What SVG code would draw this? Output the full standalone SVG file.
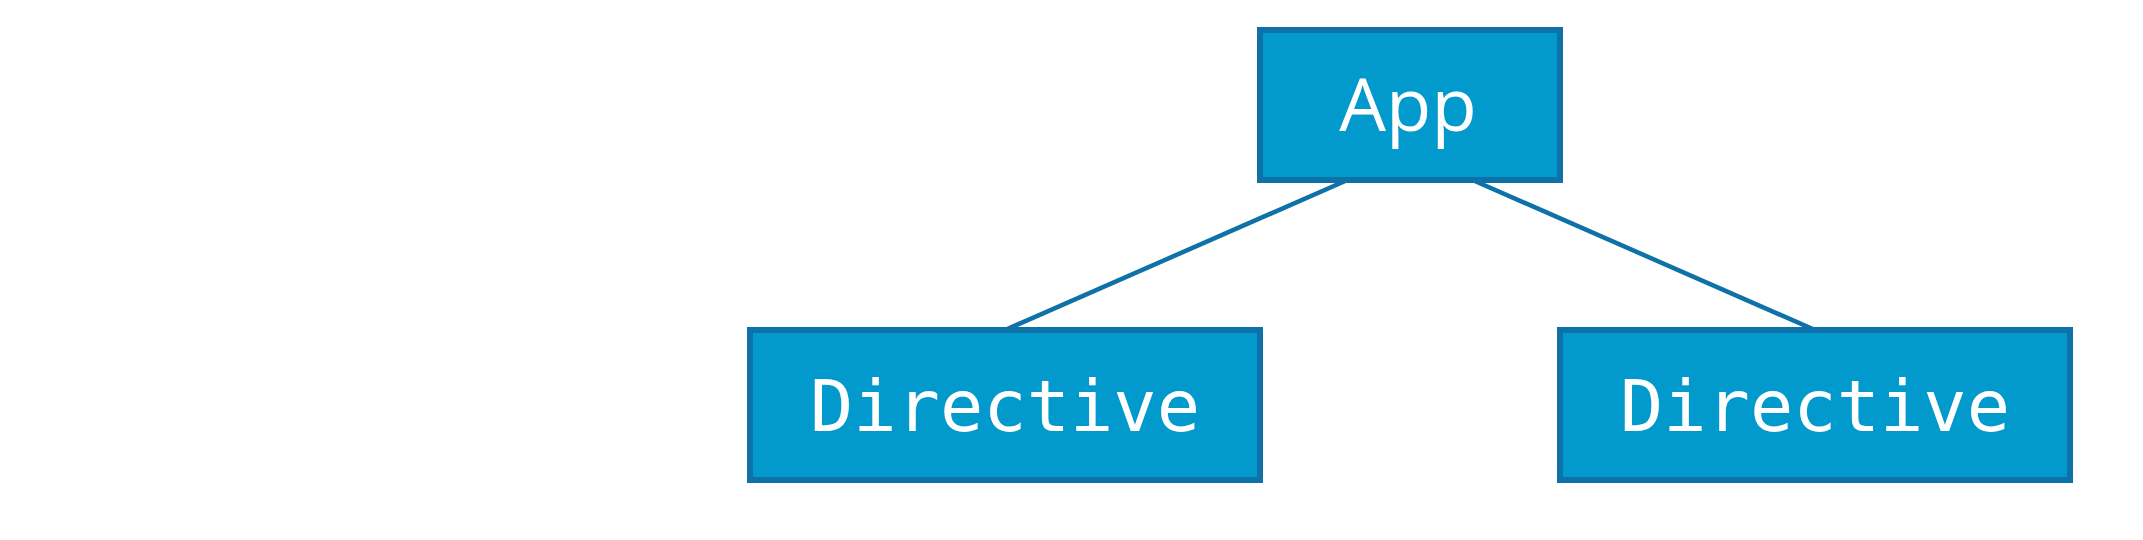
<svg xmlns="http://www.w3.org/2000/svg" width="2143" height="540" viewBox="0 0 2143 540">
<style>
.box{fill:#0299cc;stroke:#0e72a8;stroke-width:6}
.edge{stroke:#0e72a8;stroke-width:4.5;fill:none}
.app{font-family:"Open Sans",sans-serif;font-size:74px;fill:#fff;text-anchor:middle}
.dir{font-family:"DejaVu Sans Mono",monospace;font-size:72px;fill:#fff;text-anchor:middle}
</style>
<rect width="2143" height="540" fill="#fff"/>
<g id="connectors">
<line class="edge" x1="1347.5" y1="180" x2="1005" y2="330"/>
<line class="edge" x1="1472.5" y1="180" x2="1815" y2="330"/>
</g>
<g id="app">
<rect class="box" x="1260" y="30" width="300" height="150"/>
<text class="app" x="1408" y="131">App</text>
</g>
<g id="directive-left">
<rect class="box" x="750" y="330" width="510" height="150"/>
<text class="dir" x="1005" y="431">Directive</text>
</g>
<g id="directive-right">
<rect class="box" x="1560" y="330" width="510" height="150"/>
<text class="dir" x="1815" y="431">Directive</text>
</g>
</svg>
